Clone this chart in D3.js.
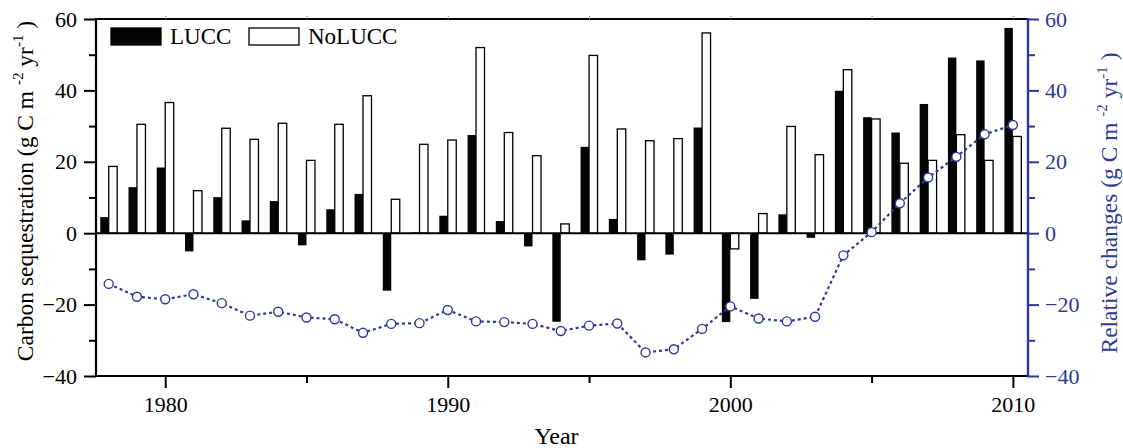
<!DOCTYPE html>
<html>
<head>
<meta charset="utf-8">
<script src="https://cdn.jsdelivr.net/npm/d3@7"></script>
<style>
body { margin: 0; background: #fff; }
text { font-family: "Liberation Serif", "Times New Roman", serif; }
</style>
</head>
<body>
<div id="chart"></div>
<script>
// ---------------- data
const years = [1978,1979,1980,1981,1982,1983,1984,1985,1986,1987,1988,1989,1990,1991,1992,1993,1994,
               1995,1996,1997,1998,1999,2000,2001,2002,2003,2004,2005,2006,2007,2008,2009,2010]
const lucc = [4.5,12.9,18.4,-5.1,10.1,3.6,9.0,-3.4,6.7,11.0,-16.1,0.2,4.9,27.5,3.4,-3.7,-24.8,
              24.2,4.0,-7.6,-6.0,29.6,-24.9,-18.4,5.3,-1.3,39.9,32.5,28.2,36.2,49.2,48.4,57.5]
const noLucc = [18.7,30.5,36.6,11.9,29.4,26.3,30.8,20.4,30.5,38.5,9.5,24.9,26.1,52.0,28.2,21.7,2.6,
                49.8,29.2,25.9,26.5,56.1,-4.4,5.5,29.9,22.0,45.8,32.0,19.6,20.4,27.6,20.4,27.1]
const relative = [-14.2,-17.8,-18.5,-17.1,-19.6,-23.1,-22.0,-23.6,-24.1,-27.9,-25.4,-25.2,-21.5,-24.7,-24.9,-25.4,-27.4,
                  -25.9,-25.3,-33.4,-32.5,-26.8,-20.5,-23.9,-24.7,-23.4,-6.2,0.3,8.4,15.6,21.4,27.7,30.3]
const seriesNames = ["LUCC", "NoLUCC"]
const xMajorTicks = [1980, 1990, 2000, 2010]
const xMinorTicks = [1985, 1995, 2005]
const yMajorTicks = [-40, -20, 0, 20, 40, 60]
const yMinorTicks = [-30, -10, 10, 30, 50]

const blue = "#2e3b96"

// ---------------- dimensions
const dims = {
    width: 1123,
    height: 448,
    margin: { top: 19, right: 96, bottom: 72, left: 96 }
}
dims.boundedWidth = dims.width - dims.margin.left - dims.margin.right
dims.boundedHeight = dims.height - dims.margin.top - dims.margin.bottom

const svg = d3.select("#chart").append("svg")
    .attr("width", dims.width)
    .attr("height", dims.height)

const bounds = svg.append("g")
    .attr("transform", `translate(${dims.margin.left},${dims.margin.top})`)

// ---------------- scales
const xScale = d3.scaleLinear()
    .domain([1977.55, 2010.5])
    .range([0, dims.boundedWidth])

const yScale = d3.scaleLinear()
    .domain([-40, 60])
    .range([dims.boundedHeight, 0])

const rScale = d3.scaleLinear()
    .domain([-40, 60])
    .range([dims.boundedHeight, 0])

const barW = 0.3

const rows = years.map((y, i) => ({ year: y, lucc: lucc[i], noLucc: noLucc[i], rel: relative[i] }))

// ---------------- bars
bounds.append("g").selectAll("rect")
    .data(rows)
    .join("rect")
    .attr("x", d => xScale(d.year - barW))
    .attr("width", d => xScale(d.year) - xScale(d.year - barW))
    .attr("y", d => yScale(Math.max(0, d.lucc)))
    .attr("height", d => Math.abs(yScale(d.lucc) - yScale(0)))
    .attr("fill", "#050505")

bounds.append("g").selectAll("rect")
    .data(rows)
    .join("rect")
    .attr("x", d => xScale(d.year))
    .attr("width", d => xScale(d.year + barW) - xScale(d.year))
    .attr("y", d => yScale(Math.max(0, d.noLucc)))
    .attr("height", d => Math.abs(yScale(d.noLucc) - yScale(0)))
    .attr("fill", "#fff")
    .attr("stroke", "#000")
    .attr("stroke-width", 1.3)

// zero line
bounds.append("line")
    .attr("x1", 0).attr("x2", dims.boundedWidth)
    .attr("y1", yScale(0)).attr("y2", yScale(0))
    .attr("stroke", "#000").attr("stroke-width", 2)

// ---------------- relative change line
const lineGen = d3.line()
    .x(d => xScale(d.year))
    .y(d => rScale(d.rel))

bounds.append("path")
    .datum(rows)
    .attr("d", lineGen)
    .attr("fill", "none")
    .attr("stroke", blue)
    .attr("stroke-width", 2.2)
    .attr("stroke-dasharray", "3,3")

bounds.append("g").selectAll("circle")
    .data(rows)
    .join("circle")
    .attr("cx", d => xScale(d.year))
    .attr("cy", d => rScale(d.rel))
    .attr("r", 4.5)
    .attr("fill", "#fff")
    .attr("stroke", blue)
    .attr("stroke-width", 1.4)

// ---------------- axes
const styleAxis = (g, color) => {
    g.select(".domain").remove()
    g.selectAll("line").attr("stroke", color).attr("stroke-width", 2)
    g.selectAll("text")
        .attr("fill", color)
        .style("font-size", "22px")
}

// top border with small ticks
bounds.append("line")
    .attr("x1", 0).attr("x2", dims.boundedWidth)
    .attr("y1", 0).attr("y2", 0)
    .attr("stroke", "#000").attr("stroke-width", 2.2)
bounds.append("g")
    .call(d3.axisTop(xScale).tickValues(xMajorTicks.concat(xMinorTicks)).tickSize(3).tickFormat(""))
    .call(g => styleAxis(g, "#999"))
    .call(g => g.selectAll("line").attr("stroke-width", 1))

// bottom
bounds.append("g")
    .attr("transform", `translate(0,${dims.boundedHeight})`)
    .call(d3.axisBottom(xScale).tickValues(xMajorTicks).tickSize(12).tickPadding(8).tickFormat(d3.format("d")))
    .call(g => styleAxis(g, "#000"))
bounds.append("g")
    .attr("transform", `translate(0,${dims.boundedHeight})`)
    .call(d3.axisBottom(xScale).tickValues(xMinorTicks).tickSize(7).tickFormat(""))
    .call(g => styleAxis(g, "#000"))
bounds.append("line")
    .attr("x1", 0).attr("x2", dims.boundedWidth)
    .attr("y1", dims.boundedHeight).attr("y2", dims.boundedHeight)
    .attr("stroke", "#000").attr("stroke-width", 2.2)

// left
bounds.append("g")
    .call(d3.axisLeft(yScale).tickValues(yMajorTicks).tickSize(12).tickPadding(7))
    .call(g => styleAxis(g, "#000"))
bounds.append("g")
    .call(d3.axisLeft(yScale).tickValues(yMinorTicks).tickSize(7).tickFormat(""))
    .call(g => styleAxis(g, "#000"))
bounds.append("line")
    .attr("x1", 0).attr("x2", 0)
    .attr("y1", -1).attr("y2", dims.boundedHeight + 1)
    .attr("stroke", "#000").attr("stroke-width", 2.2)

// right
bounds.append("g")
    .attr("transform", `translate(${dims.boundedWidth},0)`)
    .call(d3.axisRight(rScale).tickValues(yMajorTicks).tickSize(12).tickPadding(6))
    .call(g => styleAxis(g, blue))
bounds.append("g")
    .attr("transform", `translate(${dims.boundedWidth},0)`)
    .call(d3.axisRight(rScale).tickValues(yMinorTicks).tickSize(8).tickFormat(""))
    .call(g => styleAxis(g, blue))
bounds.append("line")
    .attr("x1", dims.boundedWidth + 1).attr("x2", dims.boundedWidth + 1)
    .attr("y1", -1).attr("y2", dims.boundedHeight + 1)
    .attr("stroke", blue).attr("stroke-width", 2.4)

// ---------------- axis titles
const unitTitle = (sel, label) => {
    sel.append("tspan").text(label + " (g C m ")
    sel.append("tspan").text("-2").attr("dy", -10).style("font-size", "15px")
    sel.append("tspan").text(" yr").attr("dy", 10)
    sel.append("tspan").text("-1").attr("dy", -10).style("font-size", "15px")
    sel.append("tspan").text(" )").attr("dy", 10)
}

svg.append("text")
    .attr("transform", "translate(33,191) rotate(-90)")
    .attr("text-anchor", "middle")
    .style("font-size", "23.5px")
    .attr("fill", "#000")
    .call(s => unitTitle(s, "Carbon sequestration"))

svg.append("text")
    .attr("transform", "translate(1117,203) rotate(-90)")
    .attr("text-anchor", "middle")
    .style("font-size", "23.5px")
    .attr("fill", blue)
    .call(s => unitTitle(s, "Relative changes"))

svg.append("text")
    .attr("x", dims.margin.left + dims.boundedWidth / 2 - 5)
    .attr("y", 444)
    .attr("text-anchor", "middle")
    .style("font-size", "24px")
    .text("Year")

// ---------------- legend
const legend = bounds.append("g").attr("transform", "translate(15,9)")
const legendX = [0, 138]
const legendItems = legend.selectAll("g")
    .data(seriesNames)
    .join("g")
    .attr("transform", (d, i) => `translate(${legendX[i]},0)`)
legendItems.append("rect")
    .attr("width", 50).attr("height", 17)
    .attr("fill", (d, i) => i === 0 ? "#050505" : "#fff")
    .attr("stroke", "#000")
    .attr("stroke-width", 1.3)
legendItems.append("text")
    .attr("x", 59).attr("y", 16)
    .style("font-size", "23px")
    .text(d => d)
</script>
</body>
</html>
